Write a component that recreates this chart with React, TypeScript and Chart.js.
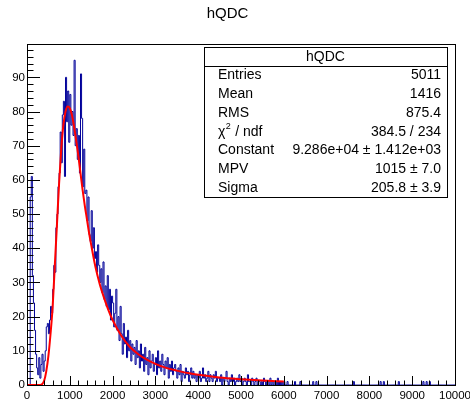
import React, { useEffect, useRef } from 'react';
import { Chart, registerables } from 'chart.js';

Chart.register(...registerables);

const TITLE = 'hQDC';
const BIN_WIDTH = 25;
const X_MIN = 0;
const X_MAX = 10000;
const Y_MAX = 99.75;
const X_MAJOR = 1000;
const X_MINOR = 200;
const Y_MAJOR = 10;
const Y_MINOR = 2;

// bin contents, bins of 25 starting at 0
const countsPeak = [
  0, 0, 0, 0, 55, 61, 32, 24, 16, 9,
  5, 3, 8, 2, 6, 9, 4, 7, 10, 17,
  18, 15, 19, 23, 21, 28, 35, 33, 46, 50,
  58, 62, 74, 65, 79, 83, 61, 90, 77, 86,
  71, 85, 76, 80, 73, 95, 70, 75, 66, 73,
  62, 91, 78, 58, 69, 56, 57, 48, 55, 44,
  42, 51, 40, 46, 37, 39, 33, 41, 35, 30,
  34, 27, 36, 25, 29, 23, 32, 22, 28, 19,
  26, 24, 17, 21, 28, 16, 20, 13, 23, 15,
  9, 18, 12, 14, 8, 16, 10, 13, 7, 12,
];
const countsTail = [
  9, 11, 6, 13, 8, 10, 5, 12, 7, 9, 4, 11, 6, 8, 3, 10, 5, 7, 9, 4,
  6, 8, 3, 10, 5, 7, 4, 9, 6, 3, 7, 5, 8, 2, 6, 4, 7, 3, 5, 6,
  4, 2, 5, 3, 6, 1, 4, 3, 2, 5, 3, 4, 1, 3, 5, 2, 4, 2, 3, 1,
  3, 2, 4, 1, 2, 5, 2, 3, 1, 2, 4, 1, 3, 2, 1, 3, 2, 4, 1, 2,
  2, 1, 3, 0, 2, 1, 2, 4, 1, 0, 2, 1, 3, 1, 2, 0, 1, 2, 1, 3,
  1, 2, 0, 1, 2, 1, 0, 3, 1, 1, 0, 2, 1, 0, 1, 2, 0, 1, 1, 0,
  1, 0, 2, 1, 0, 1, 1, 0, 2, 0, 1, 0, 1, 1, 0, 2, 0, 1, 0, 1,
];
const countsFar = [
  0, 1, 0, 0, 1, 0, 0, 0, 0, 0, 0, 1, 0, 0, 0, 0, 1, 0, 0, 0,
  0, 0, 0, 0, 0, 0, 0, 0, 1, 0, 0, 1, 0, 0, 0, 0, 0, 0, 0, 0,
  0, 0, 0, 0, 0, 0, 0, 0, 0, 0, 0, 0, 0, 0, 0, 0, 0, 0, 0, 0,
  0, 0, 0, 0, 0, 0, 1, 0, 0, 0, 0, 0, 0, 0, 0, 0, 0, 0, 0, 0,
  0, 0, 0, 0, 0, 0, 0, 0, 0, 0, 0, 1, 0, 0, 1, 0, 0, 0, 0, 0,
  0, 0, 0, 0, 0, 0, 0, 0, 1, 0, 0, 0, 0, 0, 0, 0, 0, 0, 0, 0,
  0, 0, 0, 0, 0, 0, 0, 0, 0, 0, 0, 1, 0, 0, 1, 0, 0, 1, 0, 0,
  0, 0, 0, 0, 0, 0, 0, 0, 0, 0, 0, 0, 0, 0, 0, 0, 0, 0, 0, 0,
];

// Landau fit curve
const fitX = [0, 250, 300, 350, 400, 450, 500, 550, 600, 650, 700, 750, 800, 850, 900, 950, 1000, 1050, 1100, 1150, 1200, 1250, 1300, 1350, 1400, 1450, 1500, 1600, 1700, 1800, 1900, 2000, 2200, 2400, 2600, 2800, 3000, 3250, 3500, 3750, 4000, 4500, 5000, 5500, 6000];
const fitY = [0, 0, 0.02, 0.2, 1.2, 4, 8.5, 15, 23, 35, 47, 59, 69, 76, 80, 81.5, 81, 79, 75.5, 71.5, 67, 62, 57, 52.5, 48.5, 44.5, 41, 34.5, 29.5, 25.5, 22, 19, 14.5, 11.2, 9, 7.4, 6.2, 5, 4.2, 3.5, 3, 2.2, 1.7, 1.3, 1];

const statNames = ['Entries', 'Mean', 'RMS', 'χ2 / ndf', 'Constant', 'MPV', 'Sigma'];
const statValues = ['5011', '1416', '875.4', '384.5 / 234', '9.286e+04 ± 1.412e+03', '1015 ± 7.0', '205.8 ± 3.9'];

const FONT = "'Liberation Sans', Arial, Helvetica, sans-serif";

const rootAxes = {
  id: 'rootAxes',
  afterDatasetsDraw(chart: any) {
    const { ctx, chartArea: a, scales } = chart;
    const x = scales.x;
    const y = scales.y;
    ctx.save();
    ctx.strokeStyle = '#000';
    ctx.lineWidth = 1;
    ctx.beginPath();
    for (let v = 0; v <= Y_MAX; v += Y_MINOR) {
      const p = Math.round(y.getPixelForValue(v)) + 0.5;
      const len = v % Y_MAJOR === 0 ? 13 : 6.5;
      ctx.moveTo(a.left, p);
      ctx.lineTo(a.left + len, p);
    }
    for (let v = X_MIN; v <= X_MAX; v += X_MINOR) {
      const p = Math.round(x.getPixelForValue(v)) + 0.5;
      const len = v % X_MAJOR === 0 ? 9 : 4.5;
      ctx.moveTo(p, a.bottom);
      ctx.lineTo(p, a.bottom - len);
    }
    ctx.stroke();
    ctx.strokeRect(Math.round(a.left) + 0.5, Math.round(a.top) + 0.5, Math.round(a.right - a.left), Math.round(a.bottom - a.top));
    ctx.restore();
  },
};

const statsBox = {
  id: 'statsBox',
  afterDraw(chart: any) {
    const { ctx } = chart;
    const left = 204, top = 47, right = 447, bottom = 197;
    const lines = statNames.length + 1;
    const lh = (bottom - top) / lines;
    ctx.save();
    ctx.fillStyle = '#fff';
    ctx.fillRect(left, top, right - left, bottom - top);
    ctx.strokeStyle = '#000';
    ctx.lineWidth = 1;
    ctx.strokeRect(left + 0.5, top + 0.5, right - left, bottom - top);
    ctx.beginPath();
    const sep = Math.round(top + lh) + 0.5;
    ctx.moveTo(left, sep);
    ctx.lineTo(right, sep);
    ctx.stroke();
    ctx.fillStyle = '#000';
    ctx.font = `14px ${FONT}`;
    ctx.textBaseline = 'middle';
    ctx.textAlign = 'center';
    ctx.fillText(TITLE, (left + right) / 2, top + lh / 2 + 0.5);
    for (let i = 0; i < statNames.length; i++) {
      const cy = top + lh * (i + 1.5) + 0.5;
      const name = statNames[i];
      ctx.textAlign = 'left';
      if (name.startsWith('χ2')) {
        ctx.font = `14px ${FONT}`;
        ctx.fillText('χ', 218, cy);
        const w = ctx.measureText('χ').width;
        ctx.font = `9px ${FONT}`;
        ctx.fillText('2', 218 + w + 0.5, cy - 5);
        const w2 = ctx.measureText('2').width;
        ctx.font = `14px ${FONT}`;
        ctx.fillText(name.slice(2), 218 + w + w2 + 1, cy);
      } else {
        ctx.font = `14px ${FONT}`;
        ctx.fillText(name, 218, cy);
      }
      ctx.textAlign = 'right';
      ctx.fillText(statValues[i], 441, cy);
    }
    ctx.restore();
  },
};

export default function App() {
  const ref = useRef<HTMLCanvasElement | null>(null);
  useEffect(() => {
    if (!ref.current) return;
    const counts = [...countsPeak, ...countsTail, ...countsFar];
    const histPts = counts.map((c, i) => ({ x: X_MIN + i * BIN_WIDTH, y: c }));
    histPts.push({ x: X_MAX, y: counts[counts.length - 1] });
    const fitPts = fitX.map((xv, i) => ({ x: xv, y: fitY[i] }));
    const chart = new Chart(ref.current, {
      type: 'line',
      data: {
        datasets: [
          {
            label: 'fit',
            data: fitPts,
            borderColor: '#ff0000',
            borderWidth: 2,
            pointRadius: 0,
            cubicInterpolationMode: 'monotone',
            fill: false,
            order: 0,
          },
          {
            label: TITLE,
            data: histPts,
            borderColor: '#000099',
            borderWidth: 1,
            pointRadius: 0,
            stepped: 'after',
            fill: false,
            order: 1,
          },
        ],
      },
      options: {
        animation: false,
        responsive: false,
        devicePixelRatio: 1,
        layout: { padding: { left: 0, right: 15, top: 0, bottom: 0 } },
        plugins: {
          legend: { display: false },
          tooltip: { enabled: false },
          title: {
            display: true,
            text: TITLE,
            color: '#000',
            font: { family: FONT, size: 15, weight: 'normal' },
            padding: { top: 5, bottom: 21 },
          },
        },
        scales: {
          x: {
            type: 'linear',
            min: X_MIN,
            max: X_MAX,
            grid: { display: false, drawTicks: false },
            border: { display: false },
            ticks: {
              stepSize: X_MAJOR,
              autoSkip: false,
              maxRotation: 0,
              padding: 4,
              color: '#000',
              font: { family: FONT, size: 11.5 },
              callback: (v: any) => String(v),
            },
            afterBuildTicks: (s: any) => {
              s.ticks = s.ticks.filter((t: any) => t.value % X_MAJOR === 0);
            },
            afterFit: (s: any) => {
              s.height = 19;
              s.paddingLeft = 0;
              s.paddingRight = 0;
            },
          },
          y: {
            type: 'linear',
            min: 0,
            max: Y_MAX,
            grid: { display: false, drawTicks: false },
            border: { display: false },
            ticks: {
              stepSize: Y_MAJOR,
              autoSkip: false,
              padding: 2,
              color: '#000',
              font: { family: FONT, size: 11.5 },
              callback: (v: any) => String(v),
            },
            afterBuildTicks: (s: any) => {
              s.ticks = s.ticks.filter((t: any) => t.value % Y_MAJOR === 0);
            },
            afterFit: (s: any) => {
              s.width = 27;
              s.paddingTop = 0;
              s.paddingBottom = 0;
            },
          },
        },
      },
      plugins: [rootAxes, statsBox],
    } as any);
    return () => chart.destroy();
  }, []);
  return (
    <div style={{ position: 'absolute', left: 0, top: 0, width: 470, height: 404, background: '#fff' }}>
      <canvas ref={ref} width={470} height={404} style={{ display: 'block' }} />
    </div>
  );
}
